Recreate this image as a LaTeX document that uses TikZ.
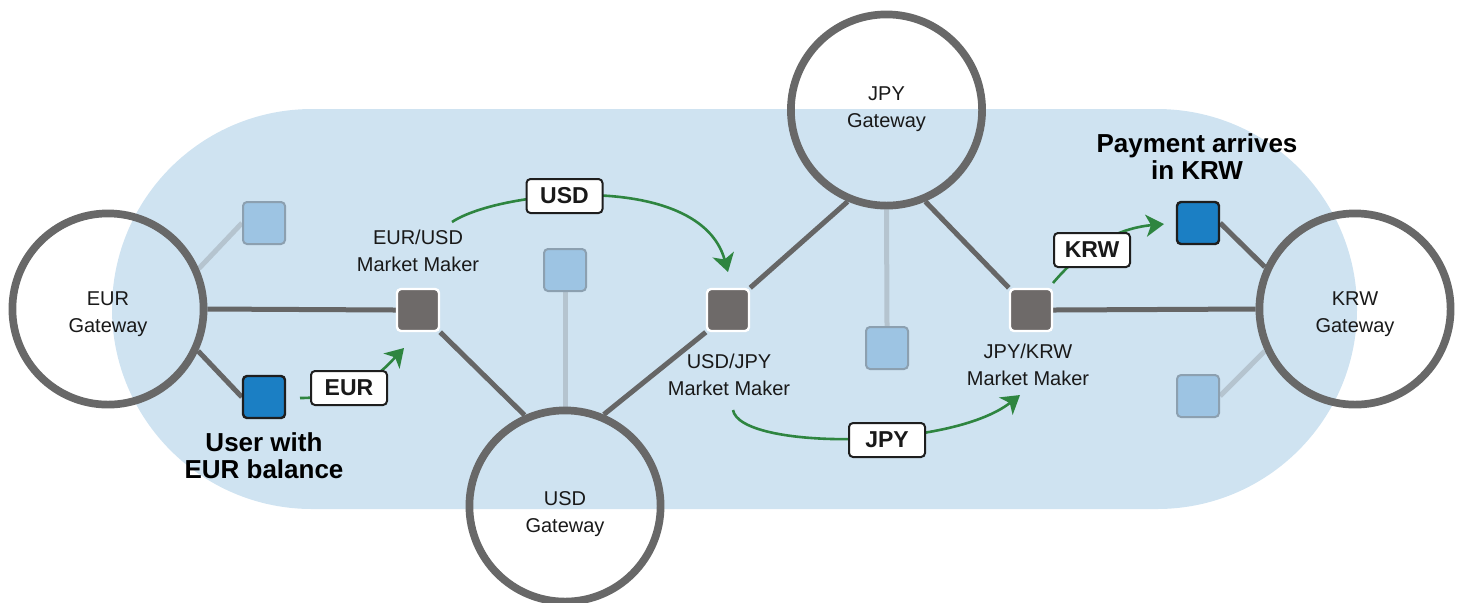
\documentclass[tikz,border=0pt]{standalone}
\usepackage{fontspec}
\setmainfont{Liberation Sans}
\usetikzlibrary{arrows.meta}
\pgfdeclarelayer{back}
\pgfdeclarelayer{mid}
\pgfsetlayers{back,mid,main}
\definecolor{bgblue}{RGB}{207,227,241}
\definecolor{gwgray}{RGB}{104,104,104}
\definecolor{linkgray}{RGB}{102,102,102}
\definecolor{lightlink}{RGB}{181,196,207}
\definecolor{mmfill}{RGB}{110,106,105}
\definecolor{sqfill}{RGB}{157,196,227}
\definecolor{sqborder}{RGB}{140,160,176}
\definecolor{userfill}{RGB}{27,127,196}
\definecolor{userborder}{RGB}{30,30,30}
\definecolor{flowgreen}{RGB}{46,133,64}
\definecolor{txt}{RGB}{25,25,25}
\tikzset{
  gateway/.style={circle, draw=gwgray, line width=3.85pt, minimum size=95.6pt, inner sep=0pt},
  gwtext/.style={align=center, inner sep=0pt, text=txt, font=\fontsize{10}{13.5}\selectfont},
  mm/.style={rectangle, rounded corners=2pt, fill=mmfill, draw=white, line width=1.2pt,
    minimum size=21pt, inner sep=0pt},
  lsq/.style={rectangle, rounded corners=2pt, fill=sqfill, draw=sqborder, line width=1pt,
    minimum size=21pt, inner sep=0pt},
  usersq/.style={rectangle, rounded corners=2pt, fill=userfill, draw=userborder, line width=1.2pt,
    minimum size=21pt, inner sep=0pt},
  link/.style={draw=linkgray, line width=2.5pt},
  lightlk/.style={draw=lightlink, line width=2.5pt},
  cur/.style={rectangle, draw=userborder, fill=white, rounded corners=2pt, line width=1pt,
    minimum width=38pt, minimum height=17pt, inner sep=0pt, text=txt,
    font=\bfseries\fontsize{11.5}{12}\selectfont},
  flow/.style={draw=flowgreen, line width=1.3pt, -{Stealth[length=9pt,width=11pt,inset=2.5pt]}},
  lbl/.style={align=center, inner sep=0pt, text=txt, font=\fontsize{10}{13.5}\selectfont},
  biglbl/.style={align=center, inner sep=0pt, text=black, font=\bfseries\fontsize{13}{13.5}\selectfont}
}
\begin{document}
\begin{tikzpicture}[x=0.5pt, y=-0.5pt]
\useasboundingbox (0,0) rectangle (1460,602);
% background stadium
\begin{pgfonlayer}{back}
\fill[bgblue, rounded corners=100pt] (112,109) rectangle (1357,509);
\end{pgfonlayer}

% gateways
\node[gateway, label={[gwtext,yshift=-2.5pt]center:EUR\\Gateway}] (eur) at (108,309) {};
\node[gateway, label={[gwtext,yshift=-4pt]center:USD\\Gateway}] (usd) at (565,506) {};
\node[gateway, label={[gwtext,yshift=0.5pt]center:JPY\\Gateway}] (jpy) at (886.5,110) {};
\node[gateway, label={[gwtext,yshift=-2.5pt]center:KRW\\Gateway}] (krw) at (1355,309) {};

% market makers
\node[mm] (mm1) at (418,310) {};
\node[mm] (mm2) at (728,310) {};
\node[mm] (mm3) at (1031,310) {};

% other accounts
\node[lsq] (sqE) at (264,223) {};
\node[lsq] (sqU) at (565,270) {};
\node[lsq] (sqJ) at (887,348) {};
\node[lsq] (sqK) at (1198,396) {};
\node[usersq] (uE) at (264,397) {};
\node[usersq] (uK) at (1198,223) {};

% links
\begin{pgfonlayer}{mid}
\draw[lightlk] (eur.24) -- (sqE.west);
\draw[link] (eur.-25) -- (uE.west);
\draw[link] (eur.east) -- (mm1.west);
\draw[link] (mm1.south east) -- (usd.114);
\draw[lightlk] (usd.90) -- (sqU.south);
\draw[link] (usd.67) -- (mm2.south west);
\draw[link] (mm2.north east) -- (jpy.247);
\draw[lightlk] (jpy.270) -- (sqJ.north);
\draw[link] (jpy.293) -- (mm3.north west);
\draw[link] (mm3.east) -- (krw.west);
\draw[link] (krw.155) -- (uK.east);
\draw[lightlk] (krw.205) -- (sqK.east);
\end{pgfonlayer}

% labels
\node[lbl] (l1) at (418,251) {EUR/USD\\Market Maker};
\node[lbl] (l2) at (729,375) {USD/JPY\\Market Maker};
\node[lbl] (l3) at (1028,365) {JPY/KRW\\Market Maker};
\node[biglbl] (lu) at (264,456) {User with\\EUR balance};
\node[biglbl] (lp) at (1197,157) {Payment arrives\\in KRW};

% flows
\coordinate (f1s) at (300,398);
\coordinate (f1e) at (404,348);
\coordinate (f2s) at (452,222);
\coordinate (f2e) at (728,272);
\coordinate (f3s) at (733,410);
\coordinate (f3e) at (1020,395);
\coordinate (f4s) at (1053,283);
\coordinate (f4e) at (1164,224);
\draw[flow] (f1s) .. controls (360,398) and (385,368) .. (f1e);
\draw[flow] (f2s) .. controls (500,190) and (700,170) .. (f2e);
\draw[flow] (f3s) .. controls (740,450) and (950,450) .. (f3e);
\draw[flow] (f4s) .. controls (1085,245) and (1120,228) .. (f4e);

% currency boxes
\node[cur] (cEUR) at (349,388) {EUR};
\node[cur] (cUSD) at (564.5,196) {USD};
\node[cur] (cJPY) at (887,440) {JPY};
\node[cur] (cKRW) at (1092,250) {KRW};
\end{tikzpicture}
\end{document}
